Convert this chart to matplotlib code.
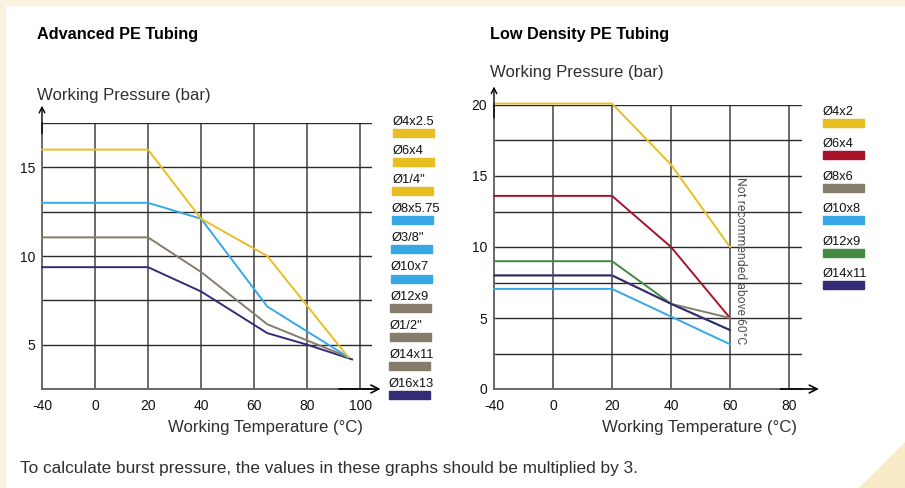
import numpy as np
import matplotlib
matplotlib.use('Agg')
import matplotlib.pyplot as plt
from matplotlib.patches import Rectangle, Polygon

# ---------------- data ----------------
adv_temp_ticks = [-40, 0, 20, 40, 60, 80, 100]
adv_p_ticks = [2.5, 5, 7.5, 10, 12.5, 15, 17.5]
adv_p_labels = ['', '5', '', '10', '', '15', '']

adv_yellow_t = [-40, 20, 40, 65, 95.5]
adv_yellow_p = [16.0, 16.0, 12.1, 10.0, 4.3]
adv_blue_t = [-40, 20, 40, 65, 95.5]
adv_blue_p = [13.0, 13.0, 12.1, 7.15, 4.3]
adv_grey_t = [-40, 20, 40, 65, 95.5]
adv_grey_p = [11.05, 11.05, 9.1, 6.15, 4.3]
adv_navy_t = [-40, 20, 40, 65, 80, 97]
adv_navy_p = [9.37, 9.37, 8.0, 5.65, 5.0, 4.17]

adv_legend_labels = ['Ø4x2.5', 'Ø6x4', 'Ø1/4"', 'Ø8x5.75', 'Ø3/8"', 'Ø10x7',
                     'Ø12x9', 'Ø1/2"', 'Ø14x11', 'Ø16x13']

ld_temp_ticks = [-40, 0, 20, 40, 60, 80]
ld_p_ticks = [0, 2.5, 5, 7.5, 10, 12.5, 15, 17.5, 20]
ld_p_labels = ['0', '', '5', '', '10', '', '15', '', '20']

ld_t = [-40, 20, 40, 60]
ld_4x2 = [20.1, 20.1, 15.8, 10.0]
ld_6x4 = [13.6, 13.6, 10.0, 5.0]
ld_8x6 = [8.0, 8.0, 6.0, 5.0]
ld_10x8 = [7.05, 7.05, 5.1, 3.15]
ld_12x9 = [9.0, 9.0, 6.0, 4.15]
ld_14x11 = [8.0, 8.0, 6.0, 4.15]

ld_legend_labels = ['Ø4x2', 'Ø6x4', 'Ø8x6', 'Ø10x8', 'Ø12x9', 'Ø14x11']

# ---------------- style ----------------
YEL = '#E8BE22'
RED = '#A8132B'
GRY = '#857C6C'
BLU = '#35A8E5'
GRN = '#45883F'
NAV = '#352C77'

adv_legend_colors = [YEL, YEL, YEL, BLU, BLU, BLU, GRY, GRY, GRY, NAV]
ld_legend_colors = [YEL, RED, GRY, BLU, GRN, NAV]

NARROW = ['Liberation Sans Narrow', 'Liberation Sans', 'DejaVu Sans']
SANS = ['Liberation Sans', 'DejaVu Sans']
LIGHT = ['Roboto', 'Liberation Sans', 'DejaVu Sans']

W, H = 905, 488
fig = plt.figure(figsize=(W / 100, H / 100), dpi=100)
fig.patch.set_facecolor('white')


def fx(x):
    return x / W


def fy(y):
    return 1 - y / H


# decorative cream frame
fig.patches.append(Rectangle((0, fy(5)), 1, 5 / H, transform=fig.transFigure,
                             color='#FBF3DF', zorder=0))
fig.patches.append(Rectangle((0, 0), 5 / W, 1, transform=fig.transFigure,
                             color='#FBF3DF', zorder=0))
fig.patches.append(Polygon([(fx(860), 0), (1, fy(443)), (1, 0)], closed=True,
                           transform=fig.transFigure, color='#FAEBC8', zorder=0))


def fwd(t):
    t = np.asarray(t, dtype=float)
    return np.where(t < 0, t / 2.0, t)


def inv(p):
    p = np.asarray(p, dtype=float)
    return np.where(p < 0, p * 2.0, p)


def setup_axes(rect, xticks, xmax, yticks, ylabels, ylim):
    ax = fig.add_axes(rect)
    ax.set_facecolor('none')
    ax.set_xscale('function', functions=(fwd, inv))
    ax.set_xlim(-40, xmax)
    ax.set_ylim(*ylim)
    ax.set_xticks(xticks)
    ax.set_xticklabels([str(v) for v in xticks], family=NARROW, fontsize=10)
    ax.set_yticks(yticks)
    ax.set_yticklabels(ylabels, family=NARROW, fontsize=10)
    ax.tick_params(axis='both', length=0, colors='#111111')
    ax.tick_params(axis='x', pad=7)
    ax.tick_params(axis='y', pad=5)
    ax.minorticks_off()
    for s in ['top', 'right']:
        ax.spines[s].set_visible(False)
    for s in ['left', 'bottom']:
        ax.spines[s].set_color('#6a6a6a')
        ax.spines[s].set_linewidth(1.4)
    ax.set_axisbelow(True)
    ax.grid(axis='x', color='#6a6a6a', lw=1.4)
    ax.grid(axis='y', color='#2a2a2a', lw=1.0)
    return ax


# ---------------- left chart ----------------
axL = setup_axes([fx(42), fy(389), 330 / W, 266 / H], adv_temp_ticks, 104.5,
                 adv_p_ticks, adv_p_labels, (2.5, 17.5))
for t, p, c in [(adv_navy_t, adv_navy_p, NAV), (adv_grey_t, adv_grey_p, GRY),
                (adv_blue_t, adv_blue_p, BLU), (adv_yellow_t, adv_yellow_p, YEL)]:
    axL.plot(t, p, color=c, lw=1.4, clip_on=False, zorder=3)

axL.annotate('', xy=(0, 1.065), xytext=(0, 0.96), xycoords='axes fraction',
             arrowprops=dict(arrowstyle='->', lw=1.0, color='black',
                             mutation_scale=10, shrinkA=0, shrinkB=0))
axL.annotate('', xy=(1.026, 0), xytext=(0.90, 0), xycoords='axes fraction',
             arrowprops=dict(arrowstyle='->', lw=1.2, color='black',
                             mutation_scale=14, shrinkA=0, shrinkB=0))

# ---------------- right chart ----------------
axR = setup_axes([fx(494), fy(389), 308 / W, 284 / H], ld_temp_ticks, 84.4,
                 ld_p_ticks, ld_p_labels, (0, 20))
for p, c in [(ld_4x2, YEL), (ld_6x4, RED), (ld_12x9, GRN), (ld_10x8, BLU),
             (ld_8x6, GRY), (ld_14x11, NAV)]:
    axR.plot(ld_t, p, color=c, lw=1.4, clip_on=False, zorder=3)

axR.annotate('', xy=(0, 1.065), xytext=(0, 0.955), xycoords='axes fraction',
             arrowprops=dict(arrowstyle='->', lw=1.0, color='black',
                             mutation_scale=10, shrinkA=0, shrinkB=0))
axR.annotate('', xy=(1.055, 0), xytext=(0.93, 0), xycoords='axes fraction',
             arrowprops=dict(arrowstyle='->', lw=1.2, color='black',
                             mutation_scale=14, shrinkA=0, shrinkB=0))

axR.text(63.6, 9.05, 'Not recommended above 60°C', rotation=270,
         ha='center', va='center', family=LIGHT, fontsize=8.8,
         fontweight='normal', color='#555555', zorder=4)

# ---------------- texts ----------------
fig.text(fx(37), fy(39), 'Advanced PE Tubing', family=NARROW, fontsize=11.7,
         fontweight='bold', color='black', ha='left', va='baseline')
fig.text(fx(490), fy(39), 'Low Density PE Tubing', family=NARROW, fontsize=11.7,
         fontweight='bold', color='black', ha='left', va='baseline')

LBL = dict(family=SANS, fontsize=12.1, fontweight='normal', color='#303030',
           va='baseline')
fig.text(fx(37), fy(100), 'Working Pressure (bar)', ha='left', **LBL)
fig.text(fx(490), fy(77), 'Working Pressure (bar)', ha='left', **LBL)
fig.text(fx(265), fy(432), 'Working Temperature (°C)', ha='center', **LBL)
fig.text(fx(699), fy(432), 'Working Temperature (°C)', ha='center', **LBL)

fig.text(fx(20), fy(473),
         'To calculate burst pressure, the values in these graphs should be multiplied by 3.',
         family=SANS, fontsize=12.4, fontweight='normal', color='#303030',
         ha='left', va='baseline')

# ---------------- legends ----------------
for i, (lab, col) in enumerate(zip(adv_legend_labels, adv_legend_colors)):
    top = 129 + i * 29.1
    x0 = 393 - i * 0.45
    fig.text(fx(x0), fy(top - 4), lab, family=NARROW, fontsize=9.3,
             color='#111111', ha='left', va='baseline')
    fig.patches.append(Rectangle((fx(x0), fy(top + 8)), 41 / W, 8 / H,
                                 transform=fig.transFigure, color=col))

for i, (lab, col) in enumerate(zip(ld_legend_labels, ld_legend_colors)):
    top = 119 + i * 32.4
    fig.text(fx(823), fy(top - 4), lab, family=NARROW, fontsize=9.3,
             color='#111111', ha='left', va='baseline')
    fig.patches.append(Rectangle((fx(823), fy(top + 8)), 41 / W, 8 / H,
                                 transform=fig.transFigure, color=col))

fig.savefig('out.png', dpi=100, facecolor=fig.get_facecolor())
